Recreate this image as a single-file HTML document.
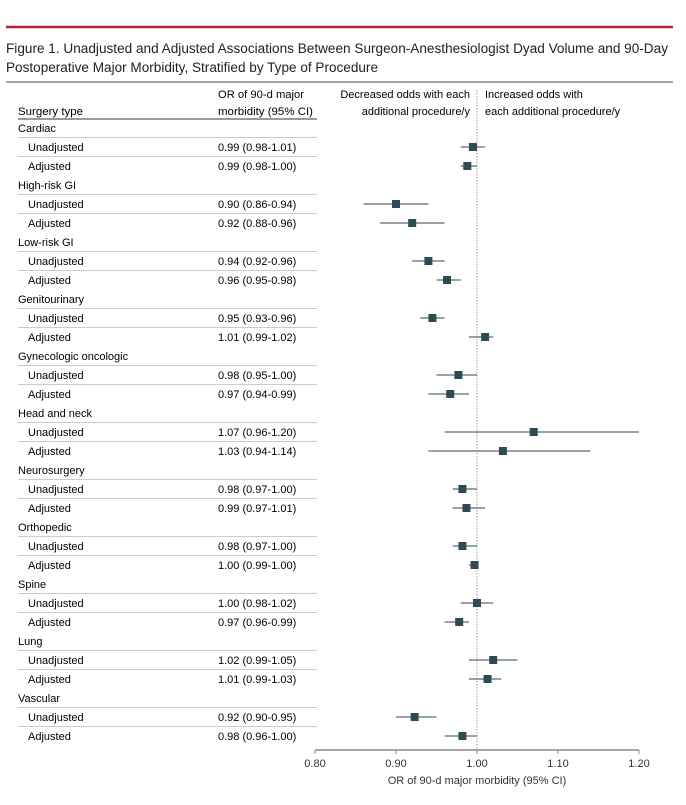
<!DOCTYPE html>
<html><head><meta charset="utf-8"><style>
body{margin:0;background:#fff;width:686px;height:800px;overflow:hidden;font-family:"Liberation Sans",sans-serif;color:#222}
svg text{font-family:"Liberation Sans Narrow","Liberation Sans",sans-serif}
</style></head><body>
<svg id="c" width="686" height="800">
<line x1="6" y1="27" x2="673" y2="27" stroke="#b0283a" stroke-width="2.5"/>
<text x="6" y="53" font-size="13.5" fill="#222" textLength="662" lengthAdjust="spacingAndGlyphs">Figure 1. Unadjusted and Adjusted Associations Between Surgeon-Anesthesiologist Dyad Volume and 90-Day</text>
<text x="6" y="72" font-size="13.5" fill="#222" textLength="372" lengthAdjust="spacingAndGlyphs">Postoperative Major Morbidity, Stratified by Type of Procedure</text>
<line x1="6" y1="82" x2="673" y2="82" stroke="#444" stroke-width="1"/>
<text x="18" y="115" font-size="11" textLength="65" lengthAdjust="spacingAndGlyphs">Surgery type</text>
<text x="218" y="98" font-size="11" textLength="86" lengthAdjust="spacingAndGlyphs">OR of 90-d major</text>
<text x="218" y="115" font-size="11" textLength="95" lengthAdjust="spacingAndGlyphs">morbidity (95% CI)</text>
<text x="470" y="98" font-size="11" text-anchor="end">Decreased odds with each</text>
<text x="470" y="115" font-size="11" text-anchor="end">additional procedure/y</text>
<text x="485" y="98" font-size="11">Increased odds with</text>
<text x="485" y="115" font-size="11">each additional procedure/y</text>
<line x1="18" y1="119" x2="317" y2="119" stroke="#333" stroke-width="1"/>
<g id="rows"></g>
</svg>
<script>
const groups=["Cardiac","High-risk GI","Low-risk GI","Genitourinary","Gynecologic oncologic","Head and neck","Neurosurgery","Orthopedic","Spine","Lung","Vascular"];
const unadjOR=[0.995,0.90,0.94,0.945,0.977,1.07,0.982,0.982,1.0,1.02,0.923];
const unadjLo=[0.98,0.86,0.92,0.93,0.95,0.96,0.97,0.97,0.98,0.99,0.90];
const unadjHi=[1.01,0.94,0.96,0.96,1.00,1.20,1.00,1.00,1.02,1.05,0.95];
const unadjText=["0.99 (0.98-1.01)","0.90 (0.86-0.94)","0.94 (0.92-0.96)","0.95 (0.93-0.96)","0.98 (0.95-1.00)","1.07 (0.96-1.20)","0.98 (0.97-1.00)","0.98 (0.97-1.00)","1.00 (0.98-1.02)","1.02 (0.99-1.05)","0.92 (0.90-0.95)"];
const adjOR=[0.988,0.92,0.963,1.01,0.967,1.032,0.987,0.997,0.978,1.013,0.982];
const adjLo=[0.98,0.88,0.95,0.99,0.94,0.94,0.97,0.99,0.96,0.99,0.96];
const adjHi=[1.00,0.96,0.98,1.02,0.99,1.14,1.01,1.00,0.99,1.03,1.00];
const adjText=["0.99 (0.98-1.00)","0.92 (0.88-0.96)","0.96 (0.95-0.98)","1.01 (0.99-1.02)","0.97 (0.94-0.99)","1.03 (0.94-1.14)","0.99 (0.97-1.01)","1.00 (0.99-1.00)","0.97 (0.96-0.99)","1.01 (0.99-1.03)","0.98 (0.96-1.00)"];
const ticks=[0.80,0.90,1.00,1.10,1.20];
const NS="http://www.w3.org/2000/svg";
const xMin=0.8,xMax=1.2,px0=315,px1=639;
function X(v){return px0+(v-xMin)/(xMax-xMin)*(px1-px0);}
const G0=128,GH=57,RH=19;
function Y(i,k){return G0+i*GH+k*RH;}
const g=document.getElementById('rows');
function mk(t,a,txt){const e=document.createElementNS(NS,t);for(const k in a)e.setAttribute(k,a[k]);if(txt!=null)e.textContent=txt;g.appendChild(e);return e;}
const axisY=Y(groups.length-1,2)+14;
let e=mk('line',{x1:X(1),y1:90,x2:X(1),y2:axisY,stroke:'#999','stroke-dasharray':'1.5,1.5'});


groups.forEach((name,i)=>{
  e=mk('text',{x:18,y:Y(i,0)+4,'font-size':11},name);
  
  
  [[unadjOR,unadjLo,unadjHi,unadjText,'Unadjusted'],[adjOR,adjLo,adjHi,adjText,'Adjusted']].forEach((s,k)=>{
    const y=Y(i,k+1);
    e=mk('line',{x1:18,y1:y-9.5,x2:317,y2:y-9.5,stroke:'#ccc','stroke-width':1});
    
    
    e=mk('text',{x:28,y:y+4,'font-size':11},s[4]);
    
    
    e=mk('text',{x:218,y:y+4,'font-size':11},s[3][i]);
    
    
    e=mk('line',{x1:X(s[1][i]),y1:y,x2:X(s[2][i]),y2:y,stroke:'#2e4a52','stroke-width':1});
    
    
    e=mk('rect',{x:X(s[0][i])-4,y:y-4,width:8,height:8,fill:'#2e4a52'});
    
    
  });
});
e=mk('line',{x1:px0,y1:axisY,x2:px1,y2:axisY,stroke:'#888','stroke-width':1.5});


ticks.forEach(t=>{
  e=mk('line',{x1:X(t),y1:axisY,x2:X(t),y2:axisY+4,stroke:'#888'});
  
  
  e=mk('text',{x:X(t),y:axisY+17,'font-size':11,'text-anchor':'middle',fill:'#333'},t.toFixed(2));
  
  
});
e=mk('text',{x:X(1),y:axisY+34,'font-size':11,'text-anchor':'middle',fill:'#333'},'OR of 90-d major morbidity (95% CI)');


</script>
</body></html>
